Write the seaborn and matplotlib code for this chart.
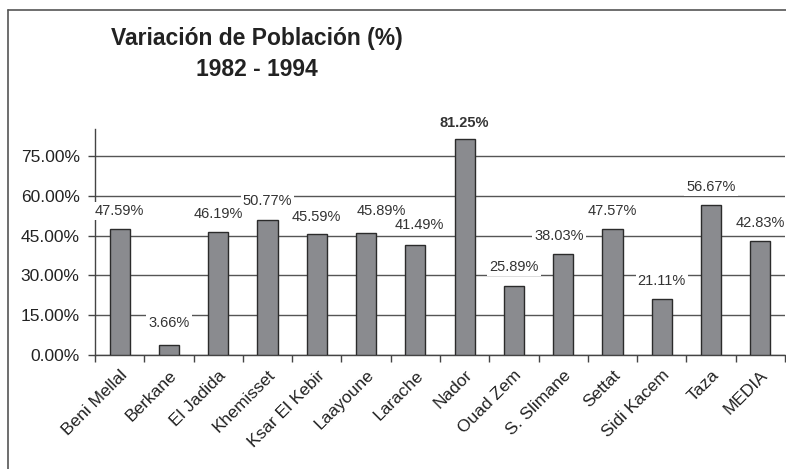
import matplotlib
matplotlib.use('Agg')
import matplotlib.pyplot as plt
import seaborn as sns
import pandas as pd
from matplotlib.lines import Line2D
from matplotlib.ticker import FixedLocator, FuncFormatter

# ---- data ----
categories = ["Beni Mellal", "Berkane", "El Jadida", "Khemisset", "Ksar El Kebir",
              "Laayoune", "Larache", "Nador", "Ouad Zem", "S. Slimane", "Settat",
              "Sidi Kacem", "Taza", "MEDIA"]
values = [47.59, 3.66, 46.19, 50.77, 45.59, 45.89, 41.49, 81.25, 25.89, 38.03,
          47.57, 21.11, 56.67, 42.83]
yticks = [0, 15, 30, 45, 60, 75]
title_line1 = "Variación de Población (%)"
title_line2 = "1982 - 1994"

# ---- style ----
label_dx = [0, 0, 0, 0, 0, 11, 3, 0, 0, -3, 0, 0, 0, 0]  # points
label_dy = [13, 16, 13, 14, 12, 16, 14, 12, 14, 13, 13, 13, 13, 13]  # points
bold_label = "Nador"

sns.set_style('white')
plt.rcParams['font.family'] = ['Liberation Sans', 'DejaVu Sans']

W, H = 786, 469
fig = plt.figure(figsize=(W / 100, H / 100), dpi=100)
ax = fig.add_axes([95 / W, 1 - 355 / H, 690 / W, 226 / H])

df = pd.DataFrame({'cat': categories, 'val': values})
sns.barplot(data=df, x='cat', y='val', color='#8a8b8f', width=0.41,
            edgecolor='#2b2b2b', linewidth=1, saturation=1, ax=ax, zorder=3)

ax.set_xlim(-0.5, len(categories) - 0.5)
ax.set_ylim(0, 85.2)
ax.set_xlabel('')
ax.set_ylabel('')

ax.set_axisbelow(True)
ax.yaxis.grid(True, color='#555555', linewidth=1)
ax.xaxis.grid(False)
for s in ['top', 'right']:
    ax.spines[s].set_visible(False)
for s in ['left', 'bottom']:
    ax.spines[s].set_color('#444444')
    ax.spines[s].set_linewidth(1)

ax.yaxis.set_major_locator(FixedLocator(yticks))
ax.yaxis.set_major_formatter(FuncFormatter(lambda v, p: f"{v:.2f}%"))
ax.tick_params(axis='y', length=5, width=1, color='#444444', direction='out',
               labelsize=12.5, labelcolor='#222222', pad=6, left=True)

ax.xaxis.set_minor_locator(FixedLocator([i - 0.5 for i in range(len(categories) + 1)]))
ax.tick_params(axis='x', which='major', length=0, pad=9)
ax.tick_params(axis='x', which='minor', length=5, width=1, color='#444444',
               direction='out', bottom=True)
ax.set_xticks(range(len(categories)))
ax.set_xticklabels(categories, rotation=45, ha='right', va='top',
                   rotation_mode='anchor', fontsize=12.5, color='#222222')

for i, (c, v) in enumerate(zip(categories, values)):
    ax.annotate(f"{v:.2f}%", (i, v), xytext=(label_dx[i], label_dy[i]),
                textcoords='offset points', ha='center', va='center',
                fontsize=10.5, color='#333333',
                fontweight='bold' if c == bold_label else 'normal',
                bbox=dict(facecolor='white', edgecolor='none', pad=1.5),
                zorder=4, annotation_clip=False)

fig.text(257 / W, 1 - 39 / H, title_line1, ha='center', va='center',
         fontsize=16.5, fontweight='bold', color='#222222')
fig.text(257 / W, 1 - 70 / H, title_line2, ha='center', va='center',
         fontsize=16.5, fontweight='bold', color='#222222')

# figure border (left and top)
fig.add_artist(Line2D([8 / W, 8 / W], [0, 1 - 10 / H], transform=fig.transFigure,
                      color='#555555', linewidth=1.2))
fig.add_artist(Line2D([8 / W, 1], [1 - 10 / H, 1 - 10 / H], transform=fig.transFigure,
                      color='#555555', linewidth=1.2))

fig.savefig('out.png', dpi=100)
